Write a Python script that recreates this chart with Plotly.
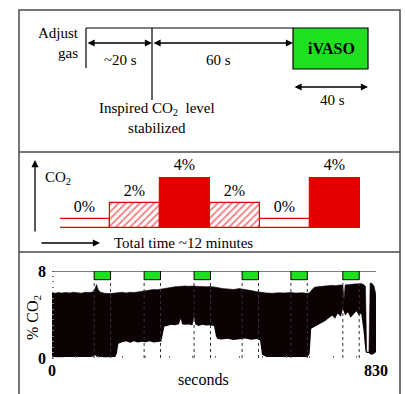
import plotly.graph_objects as go

W, H = 405, 394
SERIF = "Liberation Serif, Times New Roman, serif"

# ---------------- data ----------------
# Panel 2: CO2 paradigm blocks
block_labels = ["0%", "2%", "4%", "2%", "0%", "4%"]
block_heights = [0.7, 2, 4, 2, 0.7, 4]          # drawn height of each block
block_kind = ["empty", "hatch", "solid", "hatch", "empty", "solid"]
block_pos = [0.5, 1.5, 2.5, 3.5, 4.5, 5.5]

# Panel 3: recorded CO2 trace (envelope of breathing signal)
time_s = [0, 8, 16, 25, 35, 45, 55, 65, 75, 85, 95, 105, 110, 114, 118, 124, 135, 150, 162, 166,
          170, 180, 190, 200, 210, 220, 230, 240, 250, 260, 270, 280, 284, 288, 295, 305, 315, 325,
          330, 333, 340, 350, 360, 364, 367, 375, 385, 395, 405, 415, 420, 424, 435, 450, 465, 480,
          495, 510, 525, 533, 538, 550, 565, 580, 595, 610, 625, 640, 655, 660, 664, 672, 680, 690,
          700, 710, 718, 725, 732, 740, 745, 748, 751, 758, 765, 772, 780, 786, 792, 798, 803, 806,
          812, 815, 820, 825, 830]
co2_upper = [6.00, 5.95, 6.02, 5.97, 6.03, 5.98, 6.05, 6.00, 5.96, 6.04, 6.02, 6.08, 6.35, 6.75,
             6.30, 6.05, 5.95, 5.92, 5.98, 6.00, 6.02, 6.05, 5.98, 6.05, 6.02, 6.08, 6.10, 6.20,
             6.25, 6.30, 6.28, 6.35, 6.38, 6.40, 6.45, 6.50, 6.55, 6.58, 6.60, 6.58, 6.62, 6.60,
             6.65, 6.62, 6.60, 6.58, 6.62, 6.55, 6.58, 6.55, 6.50, 6.48, 6.40, 6.35, 6.30, 6.38,
             6.32, 6.20, 6.10, 6.05, 6.00, 5.98, 5.95, 6.00, 5.98, 6.02, 5.97, 6.00, 5.95, 6.00,
             6.20, 6.50, 6.55, 6.60, 6.62, 6.65, 6.68, 6.65, 6.70, 6.72, 6.70, 5.30, 6.72, 6.75,
             6.78, 6.80, 6.82, 6.80, 6.85, 6.75, 6.60, 0.55, 0.55, 6.90, 6.85, 6.60, 5.80]
co2_lower = [0.10, 0.08, 0.12, 0.06, 0.10, 0.09, 0.07, 0.12, 0.08, 0.10, 0.09, 0.11, 0.30, 0.12,
             0.09, 0.10, 0.08, 0.10, 0.09, 0.40, 1.30, 1.45, 1.55, 1.40, 1.55, 1.42, 1.50, 1.45,
             1.55, 1.42, 1.50, 1.52, 2.20, 2.90, 2.95, 3.05, 3.00, 3.10, 3.60, 3.10, 3.05, 3.08,
             3.00, 3.80, 3.10, 2.95, 3.05, 2.98, 3.00, 2.95, 2.00, 1.75, 1.70, 1.78, 1.65, 1.72,
             1.80, 1.68, 1.75, 1.60, 0.30, 0.10, 0.08, 0.12, 0.09, 0.10, 0.08, 0.11, 0.09, 0.40,
             2.70, 2.85, 3.00, 3.20, 3.40, 3.70, 3.90, 3.60, 4.10, 3.80, 4.50, 4.20, 3.90, 4.20,
             3.70, 4.00, 4.30, 3.90, 4.10, 2.50, 0.60, 0.45, 0.45, 0.35, 0.30, 0.40, 0.55]

ivaso_starts = [108, 236, 364, 487, 612, 745]
ivaso_len = 42
x_ticks = [0, 830]
y_ticks = [0, 8]

RED = "#e30000"
GREEN = "#1fe01f"
BLACK_TRACE = "#0b0203"


def X(px):
    return px / W


def Y(py):
    return 1 - py / H


fig = go.Figure()

# panel 2 bars, one trace per fill style
styles = {
    "empty": dict(color="white", pattern=dict(shape="")),
    "hatch": dict(color="white", pattern=dict(shape="/", fgcolor=RED, bgcolor="white",
                                              fillmode="overlay", size=5, solidity=0.35)),
    "solid": dict(color=RED, pattern=dict(shape="")),
}
for kind, mk in styles.items():
    idx = [i for i, k in enumerate(block_kind) if k == kind]
    fig.add_trace(go.Bar(
        x=[block_pos[i] for i in idx], y=[block_heights[i] for i in idx], width=1,
        marker=dict(line=dict(color=RED, width=1.2), **mk),
        text=[block_labels[i] for i in idx], textposition="outside", cliponaxis=False,
        textfont=dict(family=SERIF, size=16, color="black"),
        xaxis="x", yaxis="y", showlegend=False, hoverinfo="skip"))

# panel 3 trace envelope
fig.add_trace(go.Scatter(x=time_s, y=co2_lower, mode="lines", line=dict(width=0, color=BLACK_TRACE),
                         xaxis="x2", yaxis="y2", showlegend=False, hoverinfo="skip"))
fig.add_trace(go.Scatter(x=time_s, y=co2_upper, mode="lines", line=dict(width=0.6, color=BLACK_TRACE),
                         fill="tonexty", fillcolor=BLACK_TRACE,
                         xaxis="x2", yaxis="y2", showlegend=False, hoverinfo="skip"))

shapes = []
ann = []


def pline(x0, y0, x1, y1, color="black", width=1.2):
    shapes.append(dict(type="line", xref="paper", yref="paper", x0=X(x0), y0=Y(y0), x1=X(x1), y1=Y(y1),
                       line=dict(color=color, width=width)))


def arrow(x0, y0, x1, y1, both=False):
    ann.append(dict(xref="paper", yref="paper", x=X(x1), y=Y(y1), ax=x0 - x1, ay=y0 - y1,
                    text="", showarrow=True, arrowhead=2, arrowsize=1.1, arrowwidth=1.3,
                    arrowcolor="black", arrowside="end+start" if both else "end",
                    standoff=0, startstandoff=0))


def text(x, y, s, size=15, xanchor="center", bold=False, align="center", angle=0):
    ann.append(dict(xref="paper", yref="paper", x=X(x), y=Y(y), text=s, showarrow=False,
                    xanchor=xanchor, yanchor="middle", align=align, textangle=angle,
                    font=dict(family=SERIF, size=size, color="black",
                              weight="bold" if bold else "normal")))


# frame and dividers
shapes.append(dict(type="rect", xref="paper", yref="paper", x0=X(19), y0=Y(400), x1=X(400), y1=Y(10),
                   line=dict(color="#4a4a4a", width=1.5)))
pline(19, 152, 400, 152, "#4a4a4a", 1.5)
pline(19, 252, 400, 252, "#4a4a4a", 1.5)

# ---- panel 1 ----
pline(86, 28, 293, 28)
pline(86, 28, 86, 68)
pline(152, 28, 152, 100)
shapes.append(dict(type="rect", xref="paper", yref="paper", x0=X(293), y0=Y(69), x1=X(368), y1=Y(28),
                   fillcolor=GREEN, line=dict(color="black", width=1.2)))
arrow(86, 43, 152, 43, both=True)
arrow(152, 43, 293, 43, both=True)
arrow(293, 87, 368, 87, both=True)
text(81, 43, "Adjust<br>gas", xanchor="right", align="right")
text(120, 60, "~20 s")
text(218, 60, "60 s")
text(331, 49, "iVASO", size=16, bold=True)
text(332, 100, "40 s")
text(157, 118, "Inspired CO<sub>2</sub>  level<br>stabilized")

# ---- panel 2 ----
arrow(35, 233, 35, 160)
arrow(40, 243, 100, 243)
text(43, 178, "CO<sub>2</sub>", xanchor="left")
text(112, 243, "Total time ~12 minutes", xanchor="left")

# ---- panel 3 ----
shapes.append(dict(type="line", xref="x2", yref="y2", x0=0, x1=830, y0=8, y1=8,
                   line=dict(color="#555555", width=1.5)))
for s in ivaso_starts:
    for xe in (s, s + ivaso_len):
        shapes.append(dict(type="line", xref="x2", yref="y2", x0=xe, x1=xe, y0=0, y1=7.2,
                           line=dict(color="#333333", width=1, dash="dot"), layer="above"))
    shapes.append(dict(type="rect", xref="x2", yref="y2", x0=s, x1=s + ivaso_len, y0=7.2, y1=8,
                       fillcolor=GREEN, line=dict(color="black", width=1), layer="above"))
text(33, 318, "% CO<sub>2</sub>", size=16, angle=-90)
text(203, 379, "seconds", size=16)

fig.update_layout(
    width=W, height=H, autosize=False,
    margin=dict(l=0, r=0, t=0, b=0),
    paper_bgcolor="white", plot_bgcolor="rgba(0,0,0,0)",
    bargap=0, barmode="overlay",
    shapes=shapes, annotations=ann,
    xaxis=dict(domain=[X(60), X(360)], range=[0, 6], visible=False, fixedrange=True),
    yaxis=dict(domain=[Y(228), Y(177)], range=[0, 4], visible=False, fixedrange=True),
    xaxis2=dict(domain=[X(52), X(376)], range=[0, 830], anchor="y2", automargin=False,
                tickvals=x_ticks, ticktext=[str(v) for v in x_ticks], showgrid=False,
                zeroline=False, showline=False, ticks="", ticklabelstandoff=1,
                minor=dict(dtick=60, tick0=0, ticks="inside", ticklen=2, tickcolor="#777777", tickwidth=1),
                tickfont=dict(family=SERIF, size=16, color="black", weight="bold")),
    yaxis2=dict(domain=[Y(358), Y(271)], range=[0, 8], anchor="x2", automargin=False,
                tickvals=y_ticks, ticktext=[str(v) for v in y_ticks], showgrid=False,
                zeroline=False, showline=False, ticks="", ticklabelstandoff=5,
                minor=dict(dtick=0.5, tick0=0, ticks="inside", ticklen=2, tickcolor="#777777", tickwidth=1),
                tickfont=dict(family=SERIF, size=16, color="black", weight="bold")),
    showlegend=False,
)

fig.write_html("out.html", config={"displayModeBar": False},
               post_script="document.body.style.margin='0';document.body.style.overflow='hidden';")
